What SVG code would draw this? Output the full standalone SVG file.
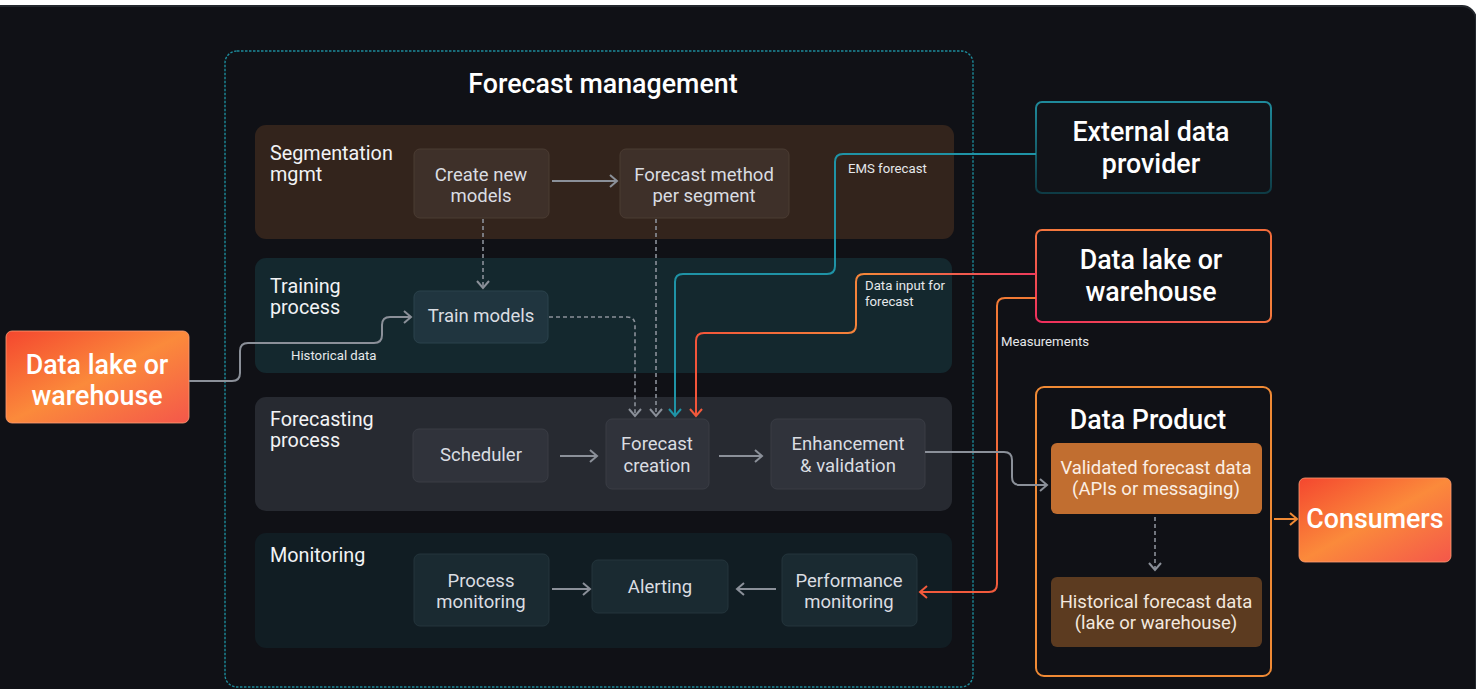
<svg xmlns="http://www.w3.org/2000/svg" width="1476" height="689" viewBox="0 0 1476 689">
  <defs>
    <style>
      .band-label { font-family: Roboto, "Liberation Sans", sans-serif; font-size: 19.8px; fill: #f2f3f5; }
      .box-text { font-family: Roboto, "Liberation Sans", sans-serif; font-size: 18.5px; fill: #dadde2; text-anchor: middle; }
      .big-text { font-family: Roboto, "Liberation Sans", sans-serif; font-size: 26.8px; font-weight: 500; fill: #ffffff; text-anchor: middle; }
      .small-label { font-family: Roboto, "Liberation Sans", sans-serif; font-size: 13.2px; fill: #e6e8eb; }
      .conn { fill: none; stroke-width: 2; }
      .gray { stroke: #8b9099; }
      .dash { stroke: #8b9099; stroke-dasharray: 4 3; stroke-width: 1.6; fill: none; }
    </style>
    <marker id="arrow-gray" markerUnits="userSpaceOnUse" markerWidth="12" markerHeight="16" refX="9" refY="8" orient="auto">
      <path d="M2,2 L9,8 L2,14" fill="none" stroke="#8b9099" stroke-width="2"/>
    </marker>
    <marker id="arrow-teal" markerUnits="userSpaceOnUse" markerWidth="12" markerHeight="16" refX="9" refY="8" orient="auto">
      <path d="M2,2 L9,8 L2,14" fill="none" stroke="#1f93a6" stroke-width="2"/>
    </marker>
    <marker id="arrow-red" markerUnits="userSpaceOnUse" markerWidth="12" markerHeight="16" refX="9" refY="8" orient="auto">
      <path d="M2,2 L9,8 L2,14" fill="none" stroke="#f25a3c" stroke-width="2"/>
    </marker>
    <marker id="arrow-orange" markerUnits="userSpaceOnUse" markerWidth="12" markerHeight="16" refX="9" refY="8" orient="auto">
      <path d="M2,2 L9,8 L2,14" fill="none" stroke="#f08a35" stroke-width="2"/>
    </marker>
    <linearGradient id="hot-fill" x1="0" y1="0" x2="1" y2="1">
      <stop offset="0" stop-color="#f4472f"/>
      <stop offset="0.5" stop-color="#fb8a3b"/>
      <stop offset="1" stop-color="#f4574a"/>
    </linearGradient>
    <linearGradient id="teal-stroke" x1="0" y1="0" x2="0" y2="1">
      <stop offset="0" stop-color="#1f8a9b"/>
      <stop offset="1" stop-color="#0e3b45"/>
    </linearGradient>
    <linearGradient id="lake-stroke" x1="0" y1="1" x2="1" y2="0">
      <stop offset="0" stop-color="#ef2d5e"/>
      <stop offset="0.6" stop-color="#f5803a"/>
      <stop offset="1" stop-color="#f26a3a"/>
    </linearGradient>
    <linearGradient id="input-line" gradientUnits="userSpaceOnUse" x1="1036" y1="0" x2="696" y2="0">
      <stop offset="0" stop-color="#ee3a5c"/>
      <stop offset="0.5" stop-color="#f5863a"/>
      <stop offset="1" stop-color="#f3553a"/>
    </linearGradient>
    <linearGradient id="measure-line" gradientUnits="userSpaceOnUse" x1="0" y1="298" x2="0" y2="592">
      <stop offset="0" stop-color="#f27a35"/>
      <stop offset="1" stop-color="#f25a3c"/>
    </linearGradient>
  </defs>

  <!-- canvas -->
  <rect x="0" y="0" width="1476" height="689" fill="#ffffff"/>
  <rect x="-20" y="6" width="1496" height="720" rx="14" fill="#101116" stroke="#23272d" stroke-width="2"/>

  <!-- Forecast management container -->
  <g id="forecast-management">
    <rect x="225" y="51" width="748" height="636" rx="12" fill="none" stroke="#1d8a9a" stroke-width="1.4" stroke-dasharray="2.5 1.5"/>
    <text x="603" y="93" font-family="Roboto, 'Liberation Sans', sans-serif" font-size="26.8" font-weight="500" fill="#ffffff" text-anchor="middle">Forecast management</text>
  </g>

  <!-- Bands -->
  <g id="segmentation-band">
    <rect x="255" y="125" width="699" height="114" rx="11" fill="#33241c"/>
    <text class="band-label" x="270" y="160">Segmentation</text>
    <text class="band-label" x="270" y="181">mgmt</text>
  </g>
  <g id="training-band">
    <rect x="255" y="258" width="697" height="115" rx="11" fill="#14282e"/>
    <text class="band-label" x="270" y="293">Training</text>
    <text class="band-label" x="270" y="314">process</text>
  </g>
  <g id="forecasting-band">
    <rect x="255" y="397" width="697" height="114" rx="11" fill="#272a31"/>
    <text class="band-label" x="270" y="426">Forecasting</text>
    <text class="band-label" x="270" y="447">process</text>
  </g>
  <g id="monitoring-band">
    <rect x="255" y="533" width="697" height="115" rx="11" fill="#111d23"/>
    <text class="band-label" x="270" y="562">Monitoring</text>
  </g>

  <!-- Nodes inside bands -->
  <g id="create-new-models">
    <rect x="414" y="149" width="135" height="69" rx="6" fill="#3e3029" stroke="#4b3c33"/>
    <text class="box-text" x="481" y="181">Create new</text>
    <text class="box-text" x="481" y="202">models</text>
  </g>
  <g id="forecast-method">
    <rect x="620" y="149" width="169" height="69" rx="6" fill="#3e3029" stroke="#4b3c33"/>
    <text class="box-text" x="704" y="181">Forecast method</text>
    <text class="box-text" x="704" y="202">per segment</text>
  </g>
  <g id="train-models">
    <rect x="414" y="291" width="134" height="52" rx="6" fill="#20353f" stroke="#2b424c"/>
    <text class="box-text" x="481" y="322">Train models</text>
  </g>
  <g id="scheduler">
    <rect x="413" y="429" width="135" height="53" rx="6" fill="#30333b" stroke="#3a3d45"/>
    <text class="box-text" x="481" y="461">Scheduler</text>
  </g>
  <g id="forecast-creation">
    <rect x="606" y="419" width="103" height="70" rx="6" fill="#30333b" stroke="#3a3d45"/>
    <text class="box-text" x="657" y="450">Forecast</text>
    <text class="box-text" x="657" y="472">creation</text>
  </g>
  <g id="enhancement">
    <rect x="771" y="419" width="154" height="70" rx="6" fill="#30333b" stroke="#3a3d45"/>
    <text class="box-text" x="848" y="450">Enhancement</text>
    <text class="box-text" x="848" y="472">&amp; validation</text>
  </g>
  <g id="process-monitoring">
    <rect x="414" y="554" width="135" height="72" rx="6" fill="#1a2a31" stroke="#24353c"/>
    <text class="box-text" x="481" y="587">Process</text>
    <text class="box-text" x="481" y="608">monitoring</text>
  </g>
  <g id="alerting">
    <rect x="592" y="560" width="136" height="53" rx="6" fill="#1a2a31" stroke="#24353c"/>
    <text class="box-text" x="660" y="593">Alerting</text>
  </g>
  <g id="performance-monitoring">
    <rect x="782" y="554" width="135" height="72" rx="6" fill="#1a2a31" stroke="#24353c"/>
    <text class="box-text" x="849" y="587">Performance</text>
    <text class="box-text" x="849" y="608">monitoring</text>
  </g>

  <!-- Left source -->
  <g id="data-lake-left">
    <rect x="6" y="331" width="183" height="92" rx="6" fill="url(#hot-fill)" stroke="#ff9d74" stroke-width="0.8"/>
    <text class="big-text" x="97" y="374">Data lake or</text>
    <text class="big-text" x="97" y="405">warehouse</text>
  </g>

  <!-- Right side sources -->
  <g id="external-data-provider">
    <rect x="1036" y="102" width="235" height="91" rx="6" fill="#111318" stroke="url(#teal-stroke)" stroke-width="2"/>
    <text class="big-text" x="1151" y="141">External data</text>
    <text class="big-text" x="1151" y="173">provider</text>
  </g>
  <g id="data-lake-right">
    <rect x="1036" y="230" width="235" height="92" rx="6" fill="#111318" stroke="url(#lake-stroke)" stroke-width="2"/>
    <text class="big-text" x="1151" y="269">Data lake or</text>
    <text class="big-text" x="1151" y="301">warehouse</text>
  </g>

  <!-- Data product -->
  <g id="data-product">
    <rect x="1036" y="387" width="235" height="289" rx="8" fill="none" stroke="#f08a35" stroke-width="2"/>
    <text class="big-text" x="1148" y="429">Data Product</text>
  </g>
  <g id="validated-forecast-data">
    <rect x="1051" y="443" width="211" height="71" rx="6" fill="#c16e30"/>
    <text class="box-text" x="1156" y="474" style="fill:#fbeee4">Validated forecast data</text>
    <text class="box-text" x="1156" y="495" style="fill:#fbeee4">(APIs or messaging)</text>
  </g>
  <g id="historical-forecast-data">
    <rect x="1051" y="577" width="211" height="70" rx="6" fill="#5c3b20"/>
    <text class="box-text" x="1156" y="608" style="fill:#f3e8df">Historical forecast data</text>
    <text class="box-text" x="1156" y="629" style="fill:#f3e8df">(lake or warehouse)</text>
  </g>
  <g id="consumers">
    <rect x="1299" y="478" width="152" height="84" rx="6" fill="url(#hot-fill)" stroke="#ff9d74" stroke-width="0.8"/>
    <text class="big-text" x="1375" y="528">Consumers</text>
  </g>

  <!-- Connectors -->
  <g id="connectors">
    <!-- segmentation -->
    <path class="conn gray" d="M552,181 H617" marker-end="url(#arrow-gray)"/>
    <path class="dash" d="M483,219 V288" marker-end="url(#arrow-gray)"/>
    <path class="dash" d="M656,219 V416" marker-end="url(#arrow-gray)"/>
    <path class="dash" d="M549,317 H627 Q635,317 635,325 V416" marker-end="url(#arrow-gray)"/>

    <!-- historical data into training -->
    <path class="conn gray" d="M189,381 H232 Q240,381 240,373 V351 Q240,343 248,343 H374 Q382,343 382,335 V325 Q382,317 390,317 H411" marker-end="url(#arrow-gray)"/>
    <text class="small-label" x="291" y="360">Historical data</text>

    <!-- EMS forecast -->
    <path class="conn" stroke="#1f93a6" d="M1036,154 H843 Q835,154 835,162 V266 Q835,274 827,274 H683 Q675,274 675,282 V416" marker-end="url(#arrow-teal)"/>
    <text class="small-label" x="848" y="173">EMS forecast</text>

    <!-- data input for forecast -->
    <path class="conn" stroke="url(#input-line)" d="M1036,274 H864 Q856,274 856,282 V325 Q856,333 848,333 H704 Q696,333 696,341 V416" marker-end="url(#arrow-red)"/>
    <text class="small-label" x="865" y="290">Data input for</text>
    <text class="small-label" x="865" y="306">forecast</text>

    <!-- measurements -->
    <path class="conn" stroke="url(#measure-line)" d="M1036,298 H1005 Q997,298 997,306 V584 Q997,592 989,592 H920" marker-end="url(#arrow-red)"/>
    <text class="small-label" x="1001" y="346">Measurements</text>

    <!-- forecasting flow -->
    <path class="conn gray" d="M560,456 H597" marker-end="url(#arrow-gray)"/>
    <path class="conn gray" d="M719,456 H762" marker-end="url(#arrow-gray)"/>
    <path class="conn gray" d="M925,452 H1004 Q1012,452 1012,460 V477 Q1012,485 1020,485 H1047" marker-end="url(#arrow-gray)"/>

    <!-- monitoring flow -->
    <path class="conn gray" d="M552,589 H590" marker-end="url(#arrow-gray)"/>
    <path class="conn gray" d="M776,589 H737" marker-end="url(#arrow-gray)"/>

    <!-- data product -->
    <path class="dash" d="M1155,517 V570" marker-end="url(#arrow-gray)"/>
    <path class="conn" stroke="#f08a35" d="M1274,519 H1297" marker-end="url(#arrow-orange)"/>
  </g>
</svg>
